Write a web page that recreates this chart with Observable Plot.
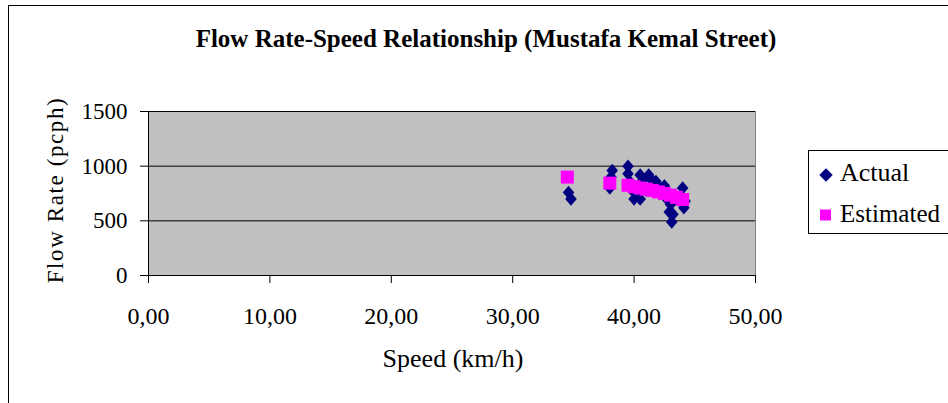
<!DOCTYPE html>
<html><head><meta charset="utf-8">
<script src="https://cdn.jsdelivr.net/npm/d3@7"></script>
<script src="https://cdn.jsdelivr.net/npm/@observablehq/plot@0.6"></script>
<style>body{margin:0;background:#fff;}#c{position:relative;width:948px;height:403px;overflow:hidden;}</style>
</head><body><div id="c"></div>
<script>
const title = "Flow Rate-Speed Relationship (Mustafa Kemal Street)";
const xLabel = "Speed (km/h)";
const yLabel = "Flow Rate (pcph)";
const legendLabels = ["Actual", "Estimated"];
const xTicks = [0, 10, 20, 30, 40, 50];
const yTicks = [0, 500, 1000, 1500];
const actualSpeed = [34.6, 34.8, 38.0, 38.1, 38.2, 39.5, 39.5, 39.7, 40.0, 40.0, 40.5, 40.5, 40.7, 41.2, 41.4, 41.8, 42.0, 42.5, 42.7, 43.0, 42.9, 43.1, 43.2, 44.0, 44.1, 44.2, 43.5, 41.0, 42.2];
const actualFlow  = [760, 700, 800, 900, 960, 1000, 930, 850, 760, 700, 700, 920, 870, 920, 880, 860, 820, 820, 700, 650, 580, 490, 560, 800, 620, 680, 700, 780, 760];
const estSpeed = [34.5, 38.0, 39.5, 40.0, 40.5, 41.0, 41.5, 42.0, 42.5, 43.0, 43.5, 44.0];
const estFlow  = [900, 845, 825, 812, 800, 790, 778, 765, 750, 735, 715, 695];

const actual = actualSpeed.map((s, i) => ({s, f: actualFlow[i]}));
const est = estSpeed.map((s, i) => ({s, f: estFlow[i]}));
const diamond = {draw(ctx, size) { const h = 6.7, w = 5.8; ctx.moveTo(0, -h); ctx.lineTo(w, 0); ctx.lineTo(0, h); ctx.lineTo(-w, 0); ctx.closePath(); }};
const square = {draw(ctx, size) { const h = 6.5; ctx.rect(-h, -h, 2*h, 2*h); }};
const fmt = d => d3.format(".2f")(d).replace(".", ",");
const serif = "'Liberation Serif', 'Times New Roman', serif";

const chart = Plot.plot({
  width: 948, height: 403,
  marginLeft: 148, marginRight: 193, marginTop: 111, marginBottom: 128,
  style: {fontFamily: serif, background: "transparent", color: "#000"},
  x: {domain: [0, 50], ticks: xTicks, tickFormat: fmt, label: null},
  y: {domain: [0, 1500], ticks: yTicks, label: null},
  marks: [
    Plot.frame({fill: "#C0C0C0", stroke: "#808080"}),
    Plot.gridY(yTicks, {stroke: "#000", strokeOpacity: 1, strokeWidth: 1}),
    Plot.axisY({ticks: yTicks, tickSize: 8, tickPadding: 13, fontSize: 23, tickFormat: "d", stroke: "#000", label: null}),
    Plot.axisX({ticks: xTicks, tickSize: 8, tickPadding: 23, fontSize: 24, tickFormat: fmt, stroke: "#000", label: null}),
    Plot.ruleY([0], {stroke: "#000"}),
    Plot.ruleX([0], {stroke: "#000"}),
    Plot.dot(actual, {x: "s", y: "f", symbol: () => diamond, fill: "#000080", stroke: "none", r: 4}),
    Plot.dot(est, {x: "s", y: "f", symbol: () => square, fill: "#FF00FF", stroke: "none", r: 4})
  ]
});
const svg = d3.select(chart);
svg.insert("rect", ":first-child").attr("x", 8.5).attr("y", 5.5).attr("width", 1000).attr("height", 500).attr("fill", "#fff").attr("stroke", "#000");
svg.append("text").attr("x", 486).attr("y", 47).attr("text-anchor", "middle")
  .attr("font-family", serif).attr("font-weight", "bold").attr("font-size", 25).text(title);
svg.append("text").attr("x", 453).attr("y", 367).attr("text-anchor", "middle")
  .attr("font-family", serif).attr("font-size", 26).text(xLabel);
svg.append("text").attr("transform", "translate(63,190) rotate(-90)").attr("text-anchor", "middle")
  .attr("font-family", serif).attr("font-size", 23).attr("letter-spacing", 1.6).text(yLabel);
const lg = svg.append("g").attr("text-anchor", "start");
lg.append("rect").attr("x", 808.5).attr("y", 150.5).attr("width", 200).attr("height", 83).attr("fill", "#fff").attr("stroke", "#000");
lg.append("path").attr("d", "M826,168.3L832.7,175L826,181.7L819.3,175Z").attr("fill", "#000080");
lg.append("text").attr("x", 840).attr("y", 181).attr("font-family", serif).attr("font-size", 26).text(legendLabels[0]);
lg.append("rect").attr("x", 820).attr("y", 209.5).attr("width", 11).attr("height", 11).attr("fill", "#FF00FF");
lg.append("text").attr("x", 840).attr("y", 222).attr("font-family", serif).attr("font-size", 25).text(legendLabels[1]);
document.getElementById("c").appendChild(chart);
</script></body></html>
